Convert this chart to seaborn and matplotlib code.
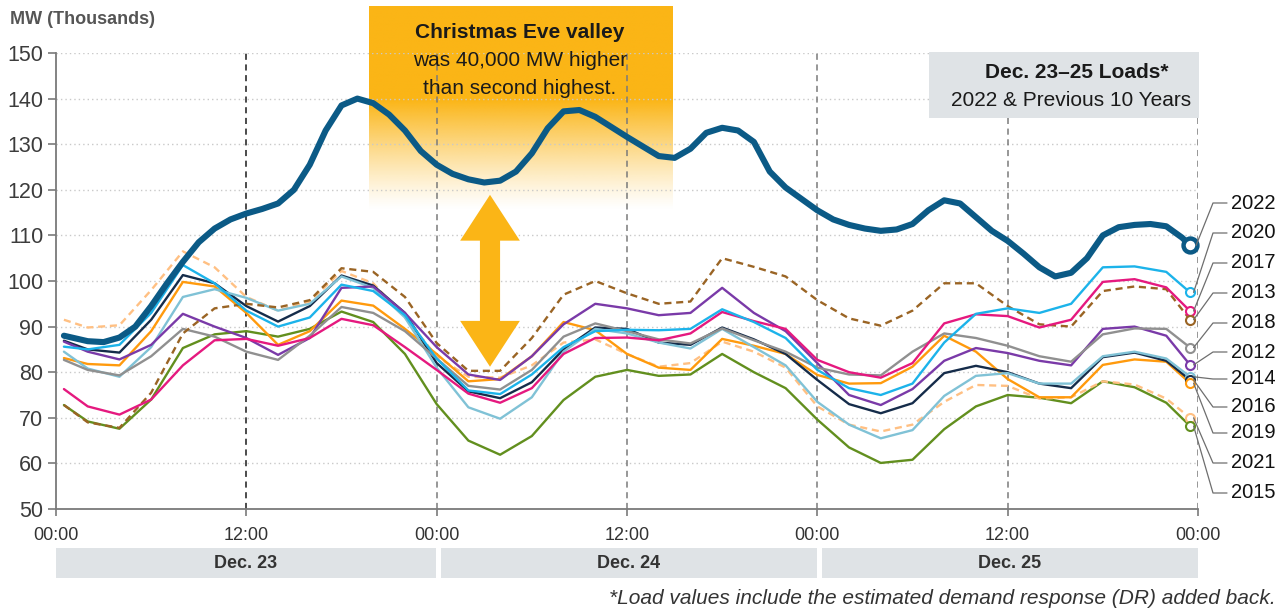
import numpy as np
import pandas as pd
import matplotlib
matplotlib.use("Agg")
import matplotlib.pyplot as plt
import seaborn as sns
from matplotlib.patches import Rectangle, FancyArrowPatch
from matplotlib.lines import Line2D

# ---------------- data ----------------
hours = [0.5] + list(range(2, 71, 2)) + [71.5]
hours_2022 = [0.5] + list(range(1, 72)) + [71.5]
hours_2022 = [0.5] + list(range(2, 72)) + [71.5]

years = ["2022", "2020", "2017", "2013", "2018", "2012", "2014", "2016", "2019", "2021", "2015"]

y2022 = [88.0,                                              # 0.5
         86.8, 86.6, 87.6, 90.0, 94.5, 99.5, 104.2, 108.5, 111.5,       # 2-10
         113.5, 114.8, 115.8, 117.0, 120.0, 125.5, 133.0, 138.5, 140.0, 139.0,  # 11-20
         136.5, 133.0, 128.5, 125.5, 123.5, 122.3, 121.6, 122.0, 124.0, 128.0,  # 21-30
         133.5, 137.2, 137.5, 136.0, 133.8, 131.6, 129.5, 127.4, 127.0, 129.0,  # 31-40
         132.5, 133.6, 133.0, 130.5, 124.0, 120.5, 118.0, 115.5, 113.5, 112.3,  # 41-50
         111.5, 111.0, 111.3, 112.5, 115.5, 117.7, 117.0, 114.0, 111.0, 108.8,  # 51-60
         106.0, 103.0, 101.0, 101.8, 105.0, 110.0, 111.8, 112.3, 112.5, 112.0,  # 61-70
         109.5,                                             # 71
         107.8]                                             # 71.5
y2020 = [85.6, 85.0, 86.0, 93.0, 103.5, 99.5, 93.5, 90.0, 92.0, 99.2, 97.8, 92.5, 83.0, 76.0, 75.2, 79.5, 85.5, 89.0,
         89.3, 89.2, 89.5, 93.8, 91.0, 87.5, 80.5, 76.5, 75.0, 77.5, 86.5, 92.8, 94.0, 93.0, 95.0, 103.0, 103.2,
         102.0, 97.5]
y2017 = [76.3, 72.5, 70.7, 74.0, 81.5, 87.0, 87.3, 85.8, 87.5, 91.7, 90.3, 85.5, 80.5, 75.3, 73.3, 76.5, 84.0, 87.5,
         87.6, 87.0, 88.5, 93.2, 91.2, 89.5, 82.7, 80.0, 78.8, 82.0, 90.7, 92.7, 92.3, 89.8, 91.5, 99.8, 100.4, 98.6,
         93.4]
y2013 = [72.8, 69.0, 67.8, 75.5, 88.5, 94.0, 95.0, 94.2, 95.8, 102.8, 102.0, 96.5, 86.4, 80.3, 80.3, 87.5, 97.0,
         100.0, 97.3, 95.0, 95.5, 105.0, 103.1, 101.0, 95.8, 91.8, 90.2, 93.5, 99.5, 99.5, 94.5, 90.5, 90.0, 97.8,
         98.8, 98.2, 91.5]
y2018 = [82.7, 80.5, 79.3, 83.5, 89.5, 87.8, 84.5, 82.7, 88.0, 94.3, 93.0, 89.0, 83.0, 77.0, 76.2, 80.5, 87.8, 90.7,
         89.0, 87.2, 86.3, 89.6, 87.0, 84.5, 81.0, 79.5, 79.3, 84.5, 88.5, 87.5, 85.8, 83.5, 82.3, 88.3, 89.6, 89.5,
         85.4]
y2012 = [86.7, 84.5, 82.8, 86.0, 92.8, 90.0, 87.5, 83.8, 87.5, 98.5, 98.8, 93.0, 85.5, 79.5, 78.3, 83.5, 90.5, 95.0,
         94.0, 92.5, 93.0, 98.5, 93.0, 89.0, 82.0, 75.0, 72.8, 76.3, 82.5, 85.3, 84.2, 82.5, 81.5, 89.5, 90.0, 88.0,
         81.6]
y2014 = [84.5, 80.8, 79.0, 85.5, 96.5, 98.2, 96.3, 93.5, 95.0, 101.0, 98.5, 92.0, 81.0, 72.3, 69.8, 74.5, 84.5, 89.5,
         88.5, 86.5, 85.2, 89.5, 85.5, 81.5, 73.5, 68.5, 65.5, 67.3, 74.8, 79.2, 79.8, 77.5, 77.5, 83.5, 84.5, 83.0,
         79.0]
y2016 = [86.9, 85.0, 84.3, 91.5, 101.3, 99.5, 94.5, 91.1, 94.5, 101.2, 99.0, 93.0, 82.0, 75.8, 74.3, 77.8, 85.0, 89.8,
         89.5, 86.5, 86.0, 89.8, 87.2, 84.0, 78.3, 73.0, 71.0, 73.2, 79.8, 81.4, 80.0, 77.5, 76.5, 83.3, 84.3, 82.5,
         78.3]
y2019 = [83.1, 81.8, 81.5, 89.0, 99.8, 98.8, 93.0, 86.0, 89.0, 95.7, 94.6, 89.5, 84.0, 78.0, 78.5, 83.5, 91.0, 89.2,
         84.0, 81.0, 80.5, 87.3, 85.8, 84.0, 79.4, 77.5, 77.6, 81.2, 88.0, 84.5, 78.5, 74.5, 74.5, 81.6, 82.8, 82.3,
         77.6]
y2021 = [91.5, 89.8, 90.3, 98.0, 106.5, 103.0, 96.5, 93.5, 95.5, 102.2, 99.5, 92.0, 83.5, 79.0, 78.8, 81.5, 86.5,
         87.2, 84.0, 81.2, 82.0, 86.7, 84.5, 81.0, 72.5, 68.5, 67.0, 68.5, 73.5, 77.2, 77.0, 74.2, 74.5, 78.0, 77.3,
         74.2, 70.0]
y2015 = [72.8, 69.2, 67.6, 74.0, 85.3, 88.3, 89.0, 87.8, 89.5, 93.3, 91.0, 84.0, 73.0, 65.0, 61.9, 66.0, 73.9, 79.0,
         80.5, 79.2, 79.5, 84.0, 80.0, 76.5, 69.6, 63.5, 60.1, 60.8, 67.5, 72.5, 75.0, 74.4, 73.2, 78.0, 76.7, 73.3,
         68.2]

series = {"2022": y2022, "2020": y2020, "2017": y2017, "2013": y2013, "2018": y2018, "2012": y2012,
          "2014": y2014, "2016": y2016, "2019": y2019, "2021": y2021, "2015": y2015}
xs = {yr: (hours_2022 if yr == "2022" else hours) for yr in years}

colors = {"2022": "#0b5a86", "2020": "#1cb3ea", "2017": "#e5197f", "2013": "#9a6424", "2018": "#909090",
          "2012": "#7a3aa8", "2014": "#80c2d6", "2016": "#152c4a", "2019": "#ff9a0d", "2021": "#ffc083",
          "2015": "#628f1e"}
dashed = {"2013", "2021"}

xtick_pos = [0, 12, 24, 36, 48, 60, 72]
xtick_labels = ["00:00", "12:00", "00:00", "12:00", "00:00", "12:00", "00:00"]
ytick_pos = list(range(50, 151, 10))
day_labels = ["Dec. 23", "Dec. 24", "Dec. 25"]
label_ys = [203, 233, 263, 293, 323, 352, 379, 407, 433, 463, 493]

# ---------------- figure ----------------
sns.set_theme(style="white")
plt.rcParams["font.family"] = ["Liberation Sans", "DejaVu Sans"]
W, H = 1283, 610
fig = plt.figure(figsize=(W / 100, H / 100), dpi=100)
ax = fig.add_axes([56 / W, 1 - 509 / H, (1198 - 56) / W, (509 - 53) / H])
ax.set_facecolor("none")

# gradient callout box
orange = np.array([251, 181, 22]) / 255.0
n = 300
ypix = np.linspace(6, 210, n)
alpha = np.clip((210 - ypix) / (210 - 100), 0, 1) ** 1.2
img = np.zeros((n, 1, 4))
img[:, 0, :3] = orange
img[:, 0, 3] = alpha
x0b, x1b = (369 - 56) / 15.861, (672 - 56) / 15.861
ytop, ybot = 150 + (53 - 6) / 4.56, 150 - (210 - 53) / 4.56
im = ax.imshow(img, extent=[x0b, x1b, ybot, ytop], aspect="auto", zorder=0.5, interpolation="bilinear")
im.set_clip_on(False)

# grid & day separators
for v in ytick_pos[1:]:
    ax.axhline(v, color="#c9c9c9", lw=1.0, ls=(0, (1, 2.2)), zorder=1)
for i, h in enumerate([12, 24, 36, 48, 60, 72]):
    ax.axvline(h, color="#1a1a1a" if i == 0 else "#7a7a7a", lw=1.1, ls=(0, (4, 3)), zorder=1.2)

# lines
order = ["2015", "2021", "2019", "2016", "2014", "2012", "2018", "2013", "2017", "2020", "2022"]
for yr in order:
    lw = 4.4 if yr == "2022" else 1.7
    sns.lineplot(x=xs[yr], y=series[yr], ax=ax, color=colors[yr], lw=lw, zorder=3 if yr != "2022" else 5,
                 legend=False)
    ln = ax.lines[-1]
    ln.set_solid_joinstyle("round")
    ln.set_solid_capstyle("round")
    if yr in dashed:
        ln.set_linestyle((0, (3, 2)))
        ln.set_dash_joinstyle("round")

# end markers
for yr in years:
    if yr == "2022":
        ax.plot(xs[yr][-1], series[yr][-1], marker="o", ms=10, mfc="white", mec=colors[yr], mew=3.2, zorder=6,
                clip_on=False)
    else:
        ax.plot(xs[yr][-1], series[yr][-1], marker="o", ms=6.5, mfc="white", mec=colors[yr], mew=1.5, zorder=4,
                clip_on=False)

# double arrow
ax_x = (490 - 56) / 15.861
for tip in (118.9, 81.2):
    arr = FancyArrowPatch((ax_x, 100), (ax_x, tip), arrowstyle="simple,head_length=33,head_width=43,tail_width=14.5",
                          mutation_scale=1, color="#fbb516", lw=0, shrinkA=0, shrinkB=0, zorder=2)
    ax.add_patch(arr)

ax.set_xlim(0, 72)
ax.set_ylim(50, 150)
ax.set_xticks(xtick_pos)
ax.set_xticklabels(xtick_labels)
ax.set_yticks(ytick_pos)
ax.set_yticklabels([str(v) for v in ytick_pos])
ax.set_xlabel("")
ax.set_ylabel("")
for s in ["top", "right"]:
    ax.spines[s].set_visible(False)
for s in ["left", "bottom"]:
    ax.spines[s].set_color("#7a7a7a")
    ax.spines[s].set_linewidth(1.3)
ax.tick_params(axis="y", direction="out", length=6, width=1.2, color="#7a7a7a", labelsize=15.5,
               labelcolor="#3c3c3c", pad=3, left=True)
ax.tick_params(axis="x", direction="out", length=5, width=1.2, color="#7a7a7a", labelsize=13,
               labelcolor="#333333", pad=8, bottom=True)


def fx(x):
    return x / W


def fy(y):
    return 1 - y / H


# callout text
fig.text(fx(520), fy(32), "Christmas Eve valley", ha="center", va="center", fontsize=15, fontweight="bold",
         color="#1a1a1a")
fig.text(fx(520), fy(60), "was 40,000 MW higher", ha="center", va="center", fontsize=15, color="#1a1a1a")
fig.text(fx(520), fy(88), "than second highest.", ha="center", va="center", fontsize=15, color="#1a1a1a")

# top-right box
fig.add_artist(Rectangle((fx(929), fy(118)), (1199 - 929) / W, (118 - 52) / H, transform=fig.transFigure,
                         facecolor="#dfe3e6", edgecolor="none", zorder=2))
fig.text(fx(1077), fy(73), "Dec. 23\u201325 Loads*", ha="center", va="center", fontsize=15, fontweight="bold",
         color="#1a1a1a", zorder=3)
fig.text(fx(1071), fy(100), "2022 & Previous 10 Years", ha="center", va="center", fontsize=15,
         color="#1a1a1a", zorder=3)

# y title
fig.text(fx(10), fy(19), "MW (Thousands)", ha="left", va="center", fontsize=13, fontweight="bold", color="#555555")

# day bands
bands = [(56, 436), (441, 817), (822, 1198)]
for (a, b), lab in zip(bands, day_labels):
    fig.add_artist(Rectangle((fx(a), fy(578)), (b - a) / W, 30 / H, transform=fig.transFigure,
                             facecolor="#dfe3e6", edgecolor="none"))
    fig.text(fx((a + b) / 2), fy(563), lab, ha="center", va="center", fontsize=13, fontweight="bold",
             color="#333333")

# footnote
fig.text(fx(1276), fy(598), "*Load values include the estimated demand response (DR) added back.", ha="right",
         va="center", fontsize=15, style="italic", color="#333333")

# leader lines + labels
fig.canvas.draw()
for yr, ly in zip(years, label_ys):
    px, py = ax.transData.transform((xs[yr][-1], series[yr][-1]))
    py = H - py
    sx = px + (6 if yr == "2022" else 3.5)
    fig.add_artist(Line2D([fx(sx), fx(1213), fx(1227)], [fy(py), fy(ly), fy(ly)], transform=fig.transFigure,
                          color="#6e6e6e", lw=0.9))
    fig.text(fx(1231), fy(ly), yr, ha="left", va="center", fontsize=14.5, color="#111111")

fig.savefig("out.png", dpi=100)
